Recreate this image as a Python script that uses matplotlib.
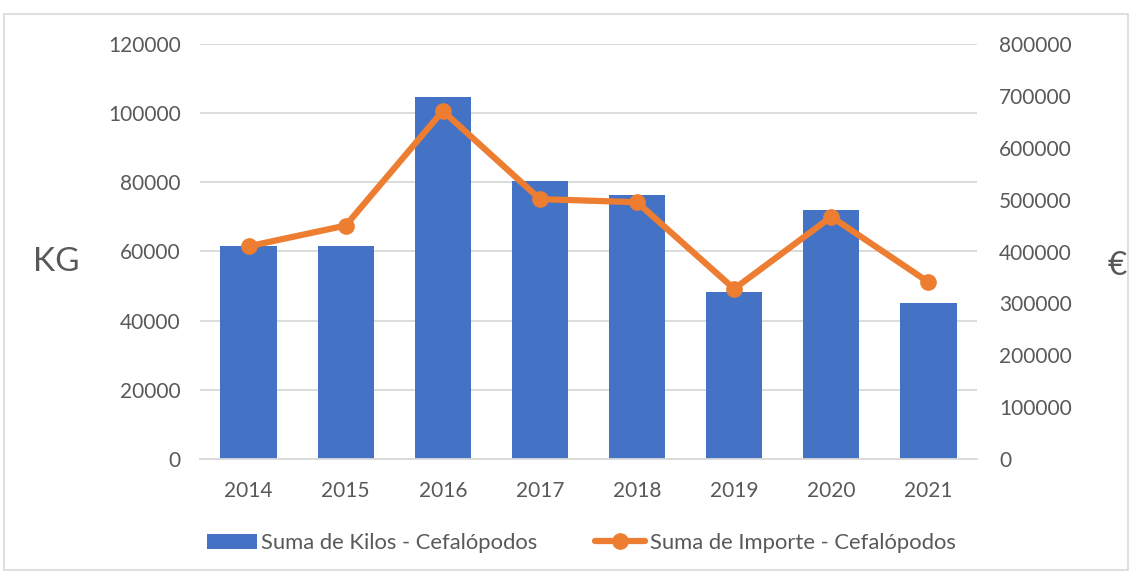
import matplotlib
matplotlib.use("Agg")
import matplotlib.pyplot as plt
from matplotlib.patches import Rectangle

years = ["2014", "2015", "2016", "2017", "2018", "2019", "2020", "2021"]
kilos = [61500, 61500, 104600, 80400, 76300, 48200, 71900, 45200]
importe = [410000, 450000, 671000, 501000, 495000, 328000, 467000, 341000]
left_ticks = [0, 20000, 40000, 60000, 80000, 100000, 120000]
right_ticks = [0, 100000, 200000, 300000, 400000, 500000, 600000, 700000, 800000]

plt.rcParams['font.family'] = ['Lato', 'DejaVu Sans']
gray = '#595959'
blue = '#4472C4'
orange = '#ED7D31'

fig = plt.figure(figsize=(11.32, 5.74), dpi=100)
ax = fig.add_axes([200/1132, 1-459/574, 777/1132, 415/574])
ax2 = ax.twinx()

x = list(range(len(years)))
ax.bar(x, kilos, width=0.58, color=blue, zorder=2, label='Suma de Kilos - Cefalópodos')
ax.set_ylim(0, 120000)
ax.set_yticks(left_ticks)
ax.set_xlim(-0.5, len(years)-0.5)
ax.set_xticks(x)
ax.set_xticklabels(years)
ax.grid(axis='y', color='#D9D9D9', linewidth=1.3, zorder=0)
ax.set_axisbelow(True)

ax2.plot(x, importe, color=orange, linewidth=4.5, marker='o', markersize=11,
         zorder=3, label='Suma de Importe - Cefalópodos', solid_capstyle='round')
ax2.set_ylim(0, 800000)
ax2.set_yticks(right_ticks)

for a in (ax, ax2):
    for s in a.spines.values():
        s.set_visible(False)
    a.tick_params(length=0, labelsize=15, labelcolor=gray)
ax.tick_params(axis='y', pad=14)
ax2.tick_params(axis='y', pad=16)
ax.tick_params(axis='x', pad=16)
ax.spines['bottom'].set_visible(True)
ax.spines['bottom'].set_color('#D9D9D9')
ax.spines['bottom'].set_linewidth(1.3)

fig.text(56/1132, 1-262/574, 'KG', fontsize=24, color=gray, ha='center', va='center')
fig.text(1117/1132, 1-266/574, '€', fontsize=24, color=gray, ha='center', va='center')

h1, l1 = ax.get_legend_handles_labels()
h2, l2 = ax2.get_legend_handles_labels()
fig.legend(h1 + h2, l1 + l2, loc='center', bbox_to_anchor=(581/1132, 1-543/574),
           ncol=2, frameon=False, fontsize=15.8, labelcolor=gray,
           handlelength=2.3, handletextpad=0.2, columnspacing=2.6)

fig.patches.append(Rectangle((4/1132, 4/574), 1124/1132, 556/574, transform=fig.transFigure,
                             fill=False, edgecolor='#D9D9D9', linewidth=1.2))

fig.savefig('out.png', dpi=100)
